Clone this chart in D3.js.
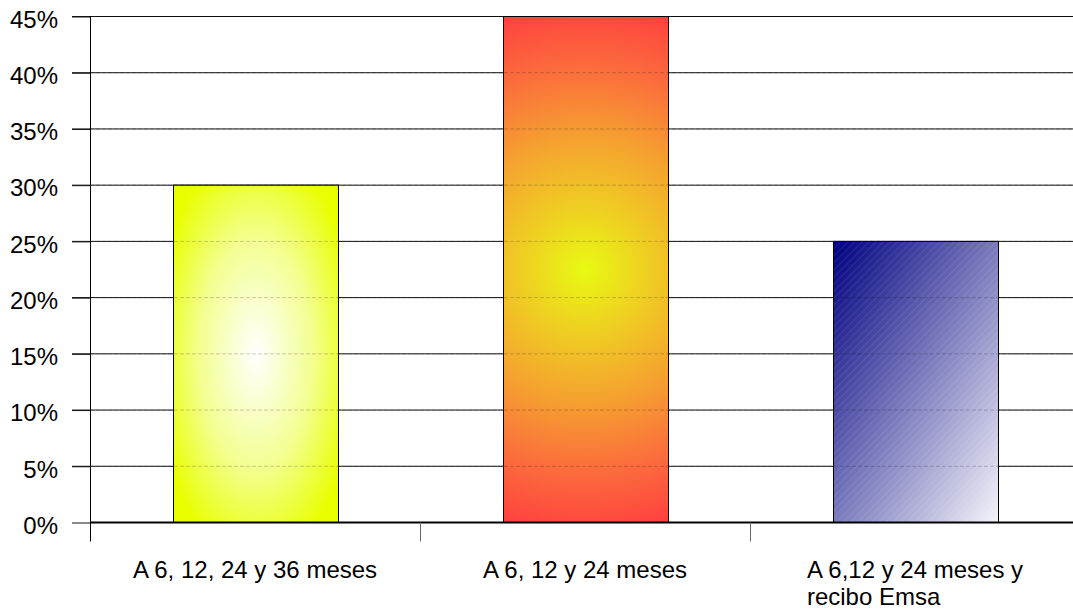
<!DOCTYPE html>
<html>
<head>
<meta charset="utf-8">
<script src="https://cdn.jsdelivr.net/npm/d3@7"></script>
<style>
  body { margin: 0; background: #fff; }
  text { font-family: "Liberation Sans", Arial, sans-serif; fill: #000; }
</style>
</head>
<body>
<div id="chart"></div>
<script>
const categories = ["A 6, 12, 24 y 36 meses", "A 6, 12 y 24 meses", "A 6,12 y 24 meses y recibo Emsa"];
const values = [30, 45, 25];
const yTicks = [0, 5, 10, 15, 20, 25, 30, 35, 40, 45];

let width = 1073,
    height = 609,
    margin = ({ top: 16.5, right: -7, bottom: 86.5, left: 90 });

const svg = d3.select("#chart")
    .append("svg")
    .attr("width", width)
    .attr("height", height);

let x = d3.scaleBand()
    .domain(categories)
    .range([margin.left, width - margin.right])
    .paddingInner(0.5)
    .paddingOuter(0.25);

let y = d3.scaleLinear()
    .domain([0, 45])
    .range([height - margin.bottom, margin.top]);

const defs = svg.append("defs");

// bar 1: white centre fading to yellow
let g1 = defs.append("radialGradient")
    .attr("id", "fill0")
    .attr("cx", 0.5).attr("cy", 0.5).attr("r", 0.62);
g1.append("stop").attr("offset", 0).attr("stop-color", "#ffffff");
g1.append("stop").attr("offset", 0.55).attr("stop-color", "#f3ff90");
g1.append("stop").attr("offset", 1).attr("stop-color", "#e8ff00");

// bar 2: circular, yellow centre to red
let bx = x(categories[1]) + x.bandwidth() / 2,
    by = (y(values[1]) + y(0)) / 2;
let g2 = defs.append("radialGradient")
    .attr("id", "fill1")
    .attr("gradientUnits", "userSpaceOnUse")
    .attr("cx", bx).attr("cy", by)
    .attr("r", Math.hypot(x.bandwidth() / 2, (y(0) - y(values[1])) / 2));
g2.append("stop").attr("offset", 0).attr("stop-color", "#e8fa12");
g2.append("stop").attr("offset", 0.2).attr("stop-color", "#eed520");
g2.append("stop").attr("offset", 0.5).attr("stop-color", "#f5a030");
g2.append("stop").attr("offset", 0.75).attr("stop-color", "#fb6e3c");
g2.append("stop").attr("offset", 1).attr("stop-color", "#ff4040");

// bar 3: navy to white diagonal
let g3 = defs.append("linearGradient")
    .attr("id", "fill2")
    .attr("x1", 0).attr("y1", 0).attr("x2", 1).attr("y2", 1);
g3.append("stop").attr("offset", 0).attr("stop-color", "#000080");
g3.append("stop").attr("offset", 1).attr("stop-color", "#f4f4fa");

let hatch = defs.append("pattern")
    .attr("id", "hatch")
    .attr("patternUnits", "userSpaceOnUse")
    .attr("width", 5).attr("height", 5)
    .attr("patternTransform", "rotate(45)");
hatch.append("line")
    .attr("x1", 0).attr("y1", 0).attr("x2", 0).attr("y2", 5)
    .attr("stroke", "#fff").attr("stroke-opacity", 0.18).attr("stroke-width", 1);

// gridlines
svg.append("g")
    .selectAll("line")
    .data(yTicks.filter(d => d > 0))
    .join("line")
    .attr("x1", margin.left - 18)
    .attr("x2", width - margin.right)
    .attr("y1", d => y(d))
    .attr("y2", d => y(d))
    .attr("stroke", "#111")
    .attr("stroke-width", 1);

// bars
let data = categories.map((c, i) => ({ cat: c, value: values[i], i: i }));

svg.append("g")
    .selectAll("rect")
    .data(data)
    .join("rect")
    .attr("x", d => Math.round(x(d.cat)) + 0.5)
    .attr("width", x.bandwidth())
    .attr("y", d => y(d.value))
    .attr("height", d => y(0) - y(d.value))
    .attr("fill", d => `url(#fill${d.i})`)
    .attr("stroke", "#000")
    .attr("stroke-width", 1);

svg.append("rect")
    .attr("x", Math.round(x(categories[2])) + 0.5)
    .attr("width", x.bandwidth())
    .attr("y", y(values[2]))
    .attr("height", y(0) - y(values[2]))
    .attr("fill", "url(#hatch)");

// faint gridlines seen through the bars
svg.append("g")
    .selectAll("line")
    .data(yTicks.filter(d => d > 0))
    .join("line")
    .attr("x1", margin.left)
    .attr("x2", width - margin.right)
    .attr("y1", d => y(d))
    .attr("y2", d => y(d))
    .attr("stroke", "#000")
    .attr("stroke-opacity", 0.2)
    .attr("stroke-dasharray", "4,2");

// y axis
const yAxis = svg.append("g")
    .attr("transform", `translate(${margin.left},0)`)
    .call(d3.axisLeft(y).tickValues(yTicks).tickSize(18).tickPadding(14).tickFormat(d => d + "%"));
yAxis.select(".domain").remove();
yAxis.selectAll(".tick line").attr("stroke", "#111");
yAxis.selectAll(".tick text")
    .attr("font-size", 24)
    .attr("dy", "0.45em")
    .style("font-family", "'Liberation Sans', Arial, sans-serif");

svg.append("line")
    .attr("x1", margin.left + 0.5).attr("x2", margin.left + 0.5)
    .attr("y1", margin.top - 0.5).attr("y2", y(0) + 19)
    .attr("stroke", "#000");

// zero line
svg.append("line")
    .attr("x1", margin.left).attr("x2", width - margin.right)
    .attr("y1", y(0)).attr("y2", y(0))
    .attr("stroke", "#000").attr("stroke-width", 2);

// category separators
svg.append("g")
    .selectAll("line")
    .data(categories.slice(1))
    .join("line")
    .attr("x1", d => Math.round(x(d) - x.step() * 0.25) + 0.5)
    .attr("x2", d => Math.round(x(d) - x.step() * 0.25) + 0.5)
    .attr("y1", y(0))
    .attr("y2", y(0) + 19)
    .attr("stroke", "#666");

// category labels, wrapped to fit
const labels = svg.append("g");
data.forEach(d => {
    let cx = x(d.cat) + x.bandwidth() / 2;
    let t = labels.append("text")
        .attr("font-size", 24)
        .attr("y", 578);
    let words = d.cat.split(" "), line = [], lines = [];
    let probe = t.append("tspan");
    for (let w of words) {
        line.push(w);
        probe.text(line.join(" "));
        if (probe.node().getComputedTextLength() > 270 && line.length > 1) {
            line.pop();
            lines.push(line.join(" "));
            line = [w];
        }
    }
    lines.push(line.join(" "));
    probe.remove();
    if (lines.length === 1) {
        t.attr("text-anchor", "middle").attr("x", cx).text(lines[0]);
    } else {
        lines.forEach((l, k) => t.append("tspan").attr("y", 578 + k * 27).text(l));
        let w = d3.max(t.selectAll("tspan").nodes(), n => n.getComputedTextLength());
        t.selectAll("tspan").attr("x", cx - w / 2);
    }
});
</script>
</body>
</html>
